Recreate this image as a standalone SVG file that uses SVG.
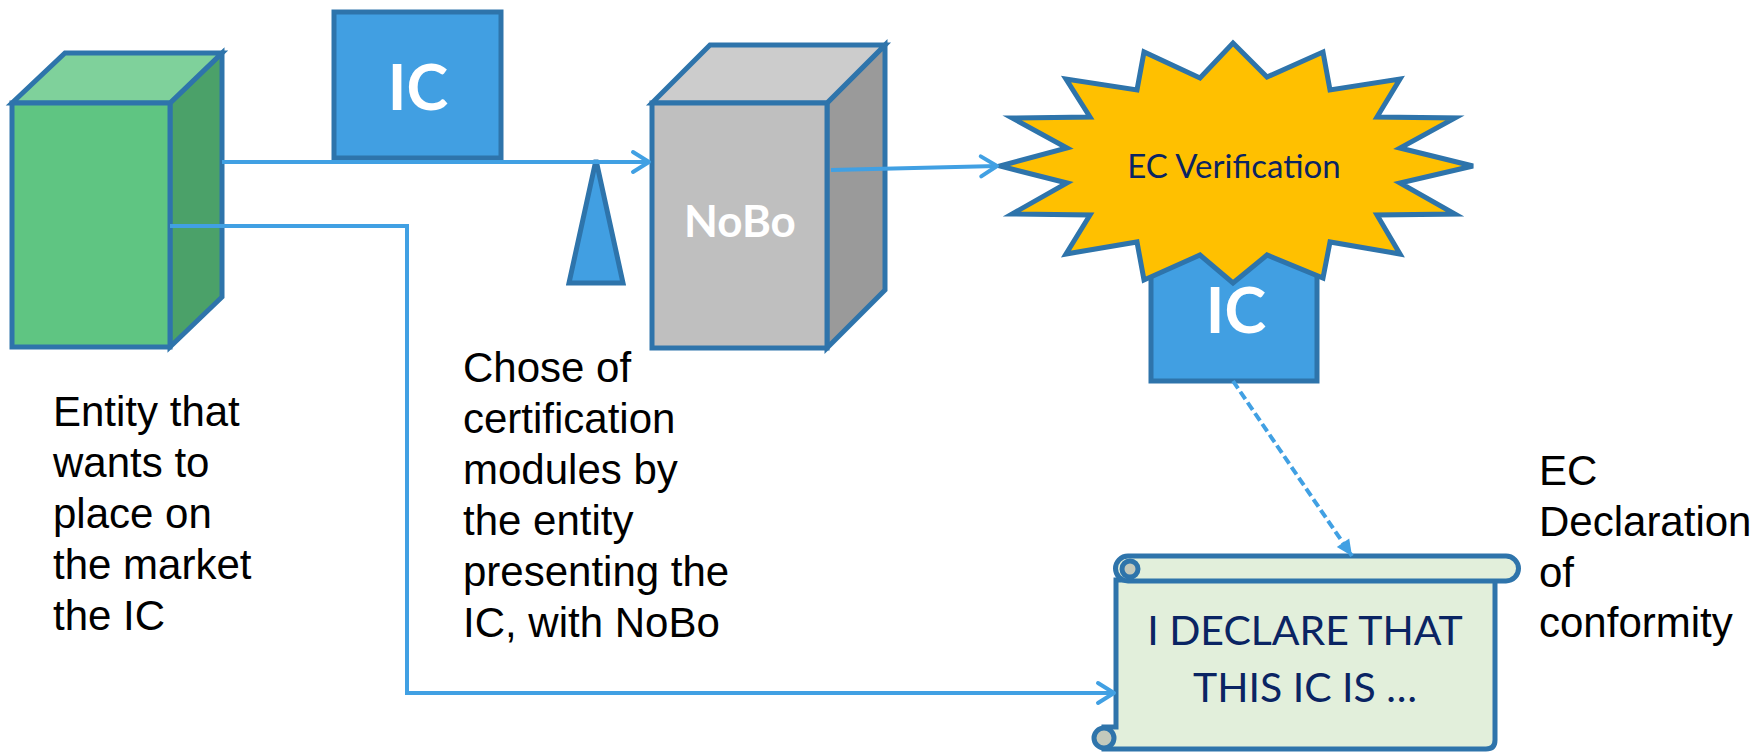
<svg xmlns="http://www.w3.org/2000/svg" width="1756" height="755" viewBox="0 0 1756 755">
<defs>
<style>
.outline{stroke:#2E74AB;stroke-width:5;stroke-linejoin:miter}
.blue{fill:#419FE2}
.conn{fill:none;stroke:#41A0E3;stroke-width:4}
.ic{font-family:Lato,"Open Sans",sans-serif;font-weight:bold;fill:#FFFFFF;text-anchor:middle}
.lbl{font-family:"Liberation Sans",Arial,sans-serif;font-size:42px;fill:#000000}
.navy{font-family:Lato,"Open Sans",sans-serif;fill:#0A2463;text-anchor:middle}
</style>
<marker id="open" markerUnits="userSpaceOnUse" markerWidth="40" markerHeight="40" viewBox="-20 -20 40 40" refX="0" refY="0" orient="auto" overflow="visible">
<path d="M-16,-10 L0,0 L-16,10" fill="none" stroke="#41A0E3" stroke-width="4" stroke-linecap="round" stroke-linejoin="round"/>
</marker>
<marker id="solid" markerUnits="userSpaceOnUse" markerWidth="40" markerHeight="40" viewBox="-20 -20 40 40" refX="0" refY="0" orient="auto" overflow="visible">
<path d="M-16,-7.5 L0,0 L-16,7.5 Z" fill="#41A0E3"/>
</marker>
</defs>
<rect width="1756" height="755" fill="#FFFFFF"/>

<g id="entity">
<polygon class="outline" points="170,103 222,53 222,297 170,347" fill="#4BA169"/>
<polygon class="outline" points="12,103 65,53 222,53 170,103" fill="#7FD19B"/>
<rect class="outline" x="12" y="103" width="158" height="244" fill="#5FC582"/>
<text class="lbl" x="53" y="426">Entity that</text>
<text class="lbl" x="53" y="477">wants to</text>
<text class="lbl" x="53" y="528">place on</text>
<text class="lbl" x="53" y="579">the market</text>
<text class="lbl" x="53" y="630">the IC</text>
</g>

<g id="ic-top">
<rect class="outline blue" x="334" y="12" width="167" height="146"/>
<text class="ic" x="418" y="110" font-size="63">IC</text>
</g>

<g id="nobo">
<polygon class="outline" points="827,103 885,45 885,290 827,348" fill="#9A9A9A"/>
<polygon class="outline" points="652,103 710,45 885,45 827,103" fill="#CCCCCC"/>
<rect class="outline" x="652" y="103" width="175" height="245" fill="#BFBFBF"/>
<text class="ic" x="740" y="237" font-size="44">NoBo</text>
</g>

<g id="ic-verified">
<rect class="outline blue" x="1151" y="240" width="166" height="141"/>
<text class="ic" x="1236" y="333" font-size="63">IC</text>
</g>

<g id="ec-verification">
<polygon class="outline" fill="#FFC000" points="1233,43 1267,77 1323,52 1330,90 1400,79 1377,117 1455,118 1400,148 1473,166 1400,183 1455,214 1377,215 1400,254 1330,242 1323,278 1267,255 1233,283 1200,255 1144,280 1137,242 1066,254 1090,215 1012,214 1067,183 1000,166 1067,148 1012,118 1090,117 1066,79 1137,90 1144,52 1200,78"/>
<text class="navy" x="1234" y="178" font-size="33">EC Verification</text>
</g>

<g id="chooser">
<polygon class="outline blue" points="596,160 623,283 569,283"/>
</g>

<g id="declaration">
<path class="outline" fill="#E2EFDB" d="M1116,580 H1495 V740 Q1495,749 1486,749 H1104 V727 H1116 Z"/>
<path class="outline" fill="#E2EFDB" d="M1128,556 H1506 A12.5,12.5 0 0 1 1506,581 H1128 A12.5,12.5 0 0 1 1128,556 Z"/>
<circle class="outline" cx="1130" cy="569" r="8" fill="#C3C9BC"/>
<circle class="outline" cx="1104" cy="738" r="10" fill="#C3C9BC"/>
<text class="navy" x="1305" y="645" font-size="41">I DECLARE THAT</text>
<text class="navy" x="1305" y="702" font-size="41">THIS IC IS …</text>
</g>

<g id="connectors">
<line class="conn" x1="222" y1="162" x2="649" y2="162" marker-end="url(#open)"/>
<polyline class="conn" points="170,226 407,226 407,693 1114,693" marker-end="url(#open)"/>
<line class="conn" x1="831" y1="170" x2="997" y2="166" marker-end="url(#open)"/>
<line class="conn" x1="1233" y1="381" x2="1352" y2="556" stroke-width="3" stroke-dasharray="9 4" marker-end="url(#solid)"/>
</g>

<g id="chose-label">
<text class="lbl" x="463" y="382">Chose of</text>
<text class="lbl" x="463" y="433">certification</text>
<text class="lbl" x="463" y="484">modules by</text>
<text class="lbl" x="463" y="535">the entity</text>
<text class="lbl" x="463" y="586">presenting the</text>
<text class="lbl" x="463" y="637">IC, with NoBo</text>
</g>

<g id="declaration-label">
<text class="lbl" x="1539" y="485">EC</text>
<text class="lbl" x="1539" y="536">Declaration</text>
<text class="lbl" x="1539" y="587">of</text>
<text class="lbl" x="1539" y="637">conformity</text>
</g>
</svg>
